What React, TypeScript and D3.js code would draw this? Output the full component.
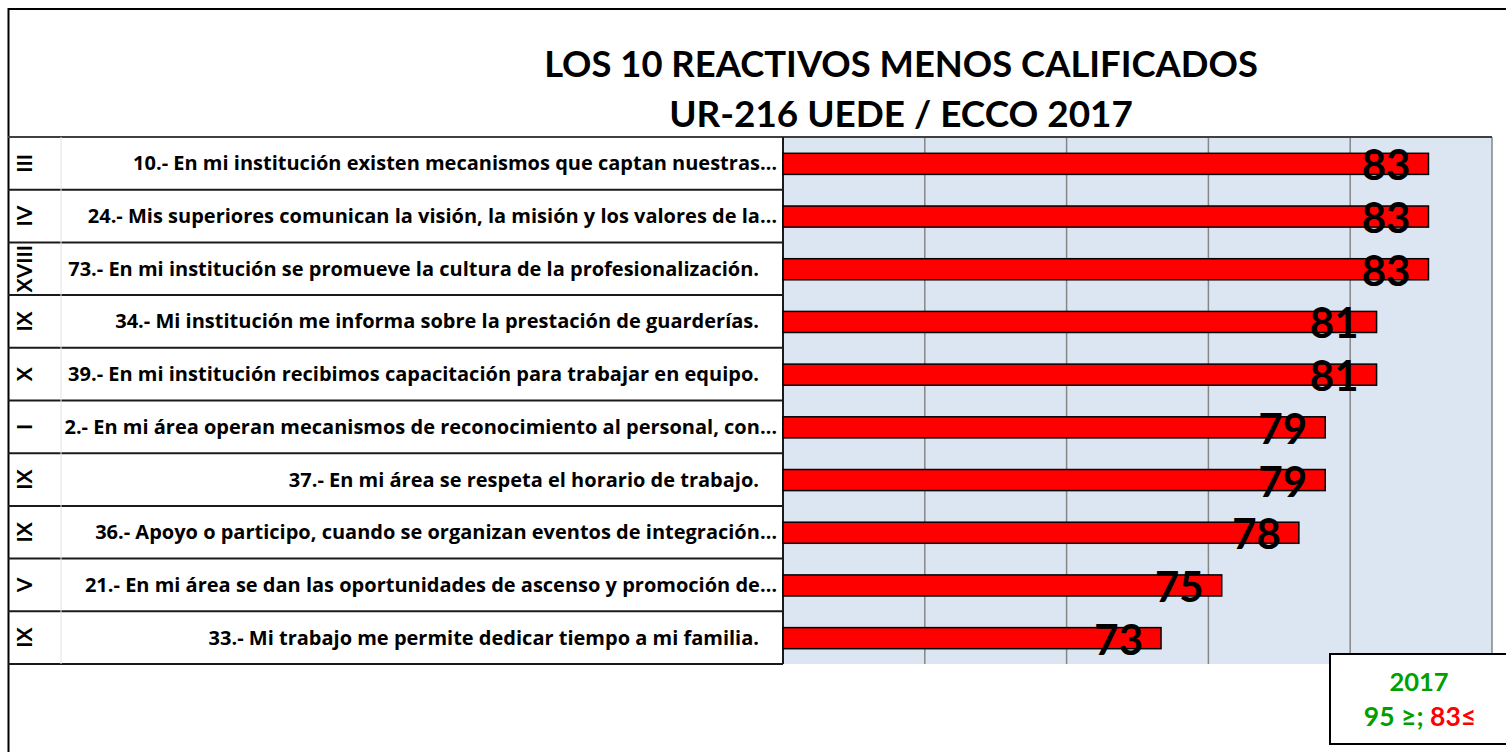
import React from "react";
import * as d3 from "d3";

const TITLE_LINES = ["LOS 10 REACTIVOS MENOS CALIFICADOS", "UR-216 UEDE / ECCO 2017"];

const factors = ["III", "IV", "XVIII", "IX", "X", "I", "IX", "IX", "V", "IX"];

const items = [
  "10.- En mi institución existen mecanismos que captan nuestras…",
  "24.- Mis superiores comunican la visión, la misión y los valores de la…",
  "73.- En mi institución se promueve la cultura de la profesionalización.",
  "34.- Mi institución me informa sobre la prestación de guarderías.",
  "39.- En mi institución recibimos capacitación para trabajar en equipo.",
  "2.- En mi área operan mecanismos de reconocimiento al personal, con…",
  "37.- En mi área se respeta el horario de trabajo.",
  "36.- Apoyo o participo, cuando se organizan eventos de integración…",
  "21.- En mi área se dan las oportunidades de ascenso y promoción de…",
  "33.- Mi trabajo me permite dedicar tiempo a mi familia.",
];

const scores = [82.76, 82.76, 82.76, 80.93, 80.93, 79.12, 79.12, 78.19, 75.47, 73.33];

const xTicks = [60, 65, 70, 75, 80, 85];

const legendYear = "2017";
const legendGood = "95 ≥;";
const legendBad = "83≤";

const FONT = "Lato, 'Open Sans', sans-serif";
const LABEL_FONT = "'Open Sans', Lato, sans-serif";

export default function App() {
  const W = 1506;
  const H = 752;
  const tableLeft = 8;
  const tableRight = 783;
  const plotLeft = 783;
  const plotRight = 1492;
  const top = 137;
  const bottom = 664;

  const x = d3.scaleLinear().domain([60, 85]).range([plotLeft, plotRight]);
  const y = d3
    .scaleBand<number>()
    .domain(d3.range(items.length))
    .range([top, bottom])
    .padding(0);
  const bw = y.bandwidth();
  const barH = bw * 0.4;

  return (
    <svg
      width={W}
      height={H}
      style={{ position: "fixed", left: 0, top: 0, background: "#ffffff" }}
    >
      {/* outer frame */}
      <rect x={8.5} y={9} width={W + 20} height={H + 20} fill="#fff" stroke="#000" strokeWidth={2} />

      {/* title */}
      {TITLE_LINES.map((t, i) => (
        <text
          key={t}
          x={901}
          y={77 + i * 50}
          textAnchor="middle"
          fontFamily={FONT}
          fontWeight={700}
          fontSize={i === 0 ? 36.4 : 36.9}
          fill="#000"
        >
          {t}
        </text>
      ))}

      {/* plot background */}
      <rect x={plotLeft} y={top} width={plotRight - plotLeft} height={bottom - top} fill="#DCE6F2" />

      {/* grid lines */}
      {xTicks.map((t) => (
        <line
          key={t}
          x1={x(t)}
          x2={x(t)}
          y1={top}
          y2={bottom}
          stroke="#868686"
          strokeWidth={1.5}
        />
      ))}

      {/* table */}
      <line x1={tableLeft} x2={plotRight} y1={top} y2={top} stroke="#404040" strokeWidth={2} />
      {items.map((_, i) => (
        <line
          key={"r" + i}
          x1={tableLeft}
          x2={tableRight}
          y1={(y(i) as number) + bw}
          y2={(y(i) as number) + bw}
          stroke="#1a1a1a"
          strokeWidth={2}
        />
      ))}
      <line x1={61} x2={61} y1={top} y2={bottom} stroke="#e2e2e2" strokeWidth={1} />
      <line x1={tableRight} x2={tableRight} y1={top} y2={bottom} stroke="#1a1a1a" strokeWidth={2} />

      {/* factor numerals */}
      {factors.map((f, i) => {
        const cy = (y(i) as number) + bw / 2;
        return (
          <text
            key={"f" + i}
            transform={`translate(${32},${cy}) rotate(-90)`}
            textAnchor="middle"
            fontFamily={FONT}
            fontWeight={700}
            fontSize={21}
            fill="#000"
          >
            {f}
          </text>
        );
      })}

      {/* item labels */}
      {items.map((t, i) => {
        const cy = (y(i) as number) + bw / 2;
        const endX = t.endsWith("…") ? 777 : 759;
        return (
          <text
            key={"l" + i}
            x={endX}
            y={cy + 7}
            textAnchor="end"
            fontFamily={LABEL_FONT}
            fontWeight={700}
            fontSize={20}
            fill="#000"
          >
            {t}
          </text>
        );
      })}

      {/* bars */}
      {scores.map((v, i) => {
        const cy = (y(i) as number) + bw / 2;
        return (
          <rect
            key={"b" + i}
            x={x(60)}
            y={cy - barH / 2 + 0.5}
            width={x(v) - x(60)}
            height={barH}
            fill="#FF0000"
            stroke="#000"
            strokeWidth={1.5}
          />
        );
      })}

      {/* value labels */}
      {scores.map((v, i) => {
        const cy = (y(i) as number) + bw / 2;
        return (
          <text
            key={"v" + i}
            x={x(v) - 18}
            y={cy + 17}
            textAnchor="end"
            fontFamily={FONT}
            fontWeight={700}
            fontSize={42}
            fill="#000"
          >
            {Math.round(v)}
          </text>
        );
      })}

      {/* legend box */}
      <rect x={1330} y={654} width={200} height={90} fill="#fff" stroke="#000" strokeWidth={2} />
      <text x={1419} y={690.5} textAnchor="middle" fontFamily={FONT} fontWeight={700} fontSize={25.5} fill="#00A000">
        {legendYear}
      </text>
      <text x={1420} y={725.5} textAnchor="middle" fontFamily={FONT} fontWeight={700} fontSize={26.5}>
        <tspan fill="#00A000">{legendGood} </tspan>
        <tspan fill="#FF0000">{legendBad}</tspan>
      </text>
    </svg>
  );
}
